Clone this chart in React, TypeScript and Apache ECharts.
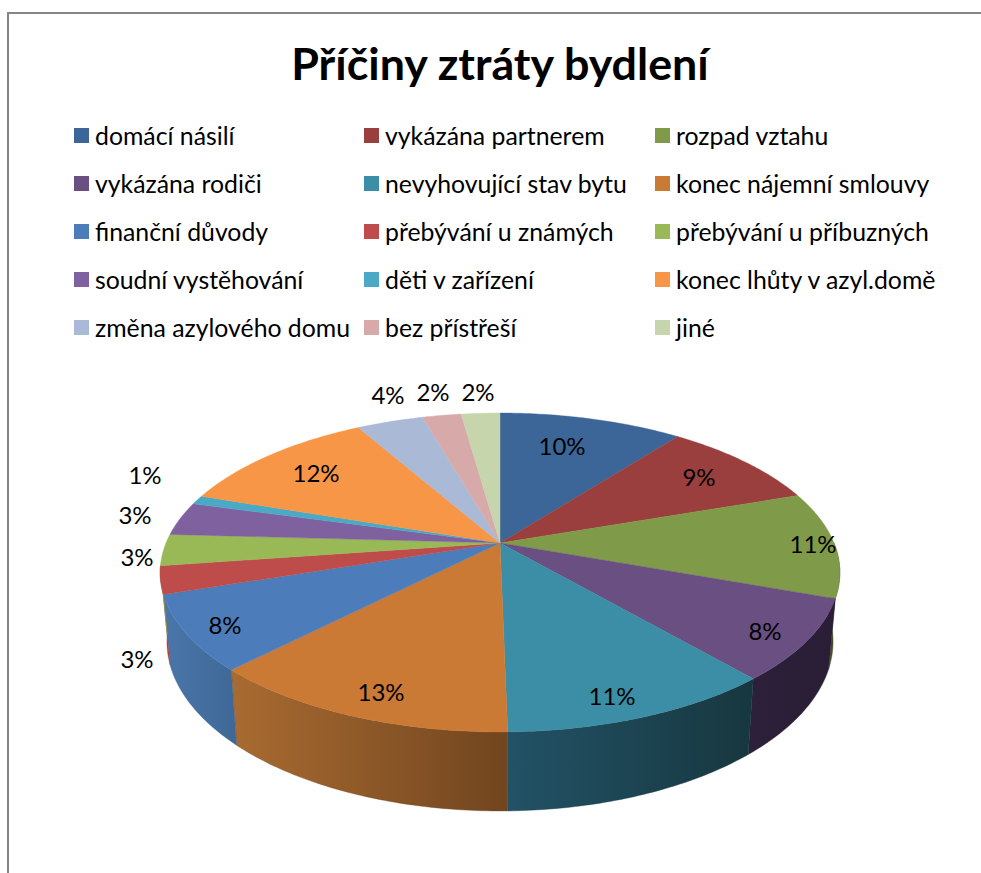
import React, { useEffect, useRef } from "react";
import * as echarts from "echarts";

const titleText = "Příčiny ztráty bydlení";
const categories = [
  "domácí násilí", "vykázána partnerem", "rozpad vztahu",
  "vykázána rodiči", "nevyhovující stav bytu", "konec nájemní smlouvy",
  "finanční důvody", "přebývání u známých", "přebývání u příbuzných",
  "soudní vystěhování", "děti v zařízení", "konec lhůty v azyl.domě",
  "změna azylového domu", "bez přístřeší", "jiné",
];
const values = [10.45, 9.25, 10.8, 8.2, 11.0, 12.6, 7.6, 2.8, 3.2, 3.4, 0.9, 11.6, 3.8, 2.2, 2.2];
const topColors = [
  "#3d6698", "#9a3f3d", "#7f9a48", "#6a4f82", "#3b8ea5", "#cb7a35", "#4c7dba", "#be4c4a",
  "#99b957", "#7f61a0", "#4aa9c4", "#f79646", "#aab9d6", "#d8a9a9", "#c6d5ac",
];
const wallColors = [
  ["#2f5078", "#2f5078"], ["#7a3230", "#7a3230"], ["#47572a", "#3f4d24"], ["#2c203a", "#2a1e36"],
  ["#225266", "#17373f"], ["#a96b31", "#71451f"], ["#4a76aa", "#3f6896"], ["#a84341", "#a84341"],
  ["#89a64d", "#89a64d"], ["#6f558f", "#6f558f"], ["#3f98af", "#3f98af"], ["#dd863e", "#dd863e"],
  ["#98a6c0", "#98a6c0"], ["#c29797", "#c29797"], ["#b1bf9a", "#b1bf9a"],
];
// centre of each percentage label, in page pixels
const labelSpots = [
  [562, 445], [699, 476], [813, 543], [765, 630], [612, 695], [381, 691], [225, 624], [137, 658],
  [137, 556], [135, 514], [145, 474], [316, 472], [388, 394], [433, 391], [478, 391],
];

const FONT = "Lato, 'Noto Sans', sans-serif";
const total = values.reduce((a, b) => a + b, 0);
const starts = values.map((_, i) => values.slice(0, i).reduce((a, b) => a + b, 0));

// Perspective projection of the pie's circle: angle is clockwise from 12 o'clock.
const CX = 500, CY = 543, A = 334, B = 154, K = 0.185;
const WALL_FROM = 90, WALL_TO = 262;
const topPoint = (deg: number) => {
  const t = (deg * Math.PI) / 180;
  const u = Math.sin(t), v = -Math.cos(t), w = 1 - K * v;
  return [CX + (A * u) / w, CY + (B * v) / w];
};
const bottomPoint = (deg: number) => {
  const [x, y] = topPoint(deg);
  return [500 + (x - 500) * 0.98, 641 + (y - 572) * 1.0625];
};
const arc = (from: number, to: number, f: (d: number) => number[]) => {
  const n = Math.max(2, Math.ceil((to - from) / 0.75));
  return Array.from({ length: n + 1 }, (_, i) => f(from + ((to - from) * i) / n));
};

const makeSeries = (i: number) => ({
  type: "custom",
  name: categories[i],
  coordinateSystem: "none",
  silent: true,
  itemStyle: { color: topColors[i] },
  data: [values[i]],
  renderItem: (_: any, api: any) => {
    const v = api.value(0) as number;
    const a0 = (starts[i] / total) * 360;
    const a1 = a0 + (v / total) * 360;
    const children: any[] = [];
    const w0 = Math.max(a0, WALL_FROM), w1 = Math.min(a1, WALL_TO);
    if (w1 > w0) {
      children.push({
        type: "polygon",
        z2: 1,
        shape: { points: [...arc(w0, w1, topPoint), ...arc(w0, w1, bottomPoint).reverse()] },
        style: {
          fill: new echarts.graphic.LinearGradient(0, 0, 1, 0, [
            { offset: 0, color: wallColors[i][0] },
            { offset: 1, color: wallColors[i][1] },
          ]),
          stroke: wallColors[i][1],
          lineWidth: 0.4,
        },
      });
    }
    children.push({
      type: "polygon",
      z2: 2,
      shape: { points: [[CX, CY], ...arc(a0, a1, topPoint)] },
      style: { fill: topColors[i], stroke: topColors[i], lineWidth: 0.4 },
    });
    children.push({
      type: "text",
      z2: 10,
      x: labelSpots[i][0],
      y: labelSpots[i][1],
      style: {
        text: `${Math.round((v / total) * 100)}%`,
        fill: "#000",
        font: `24px ${FONT}`,
        align: "center",
        verticalAlign: "middle",
      },
    });
    return { type: "group", children };
  },
});

const legendColumn = (col: number, left: number) => ({
  orient: "vertical" as const,
  left,
  top: 123,
  itemWidth: 15,
  itemHeight: 15,
  itemGap: 24,
  icon: "rect",
  selectedMode: false,
  padding: 0,
  textStyle: { fontFamily: FONT, fontSize: 24.8, color: "#000", lineHeight: 24, padding: [0, 0, 0, 1] },
  data: categories
    .map((name, i) => ({ name, i }))
    .filter((d) => d.i % 3 === col)
    .map((d) => ({ name: d.name, itemStyle: { color: topColors[d.i] } })),
});

export default function App() {
  const ref = useRef<HTMLDivElement>(null);
  useEffect(() => {
    const chart = echarts.init(ref.current!, undefined, { renderer: "svg" });
    chart.setOption({
      animation: false,
      backgroundColor: "#fff",
      title: {
        text: titleText,
        left: 495,
        top: 35,
        textAlign: "center",
        textStyle: { fontFamily: FONT, fontWeight: 700, fontSize: 44.8, color: "#000" },
      },
      legend: [
        { ...legendColumn(0, 74), itemGap: 23 },
        { ...legendColumn(1, 364), itemGap: 23 },
        { ...legendColumn(2, 655), itemGap: 23 },
      ],
      graphic: [
        {
          type: "polyline",
          silent: true,
          shape: { points: [[8, 880], [8, 13], [990, 13]] },
          style: { stroke: "#868686", lineWidth: 2, fill: "none" },
        },
      ],
      series: categories.map((_, i) => makeSeries(i)),
    });
    return () => chart.dispose();
  }, []);
  return <div ref={ref} style={{ position: "fixed", left: 0, top: 0, width: 981, height: 873 }} />;
}
